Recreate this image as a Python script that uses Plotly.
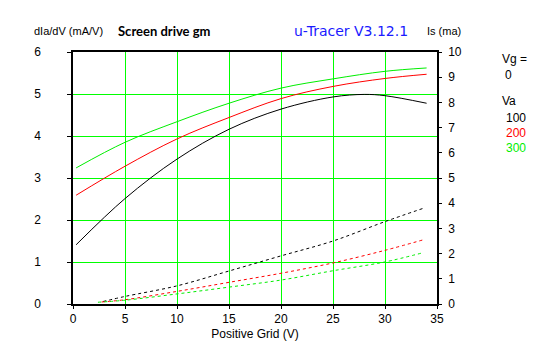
import plotly.graph_objects as go

# Data
vg_gm = [0.3, 5, 10, 15, 20, 25, 28, 30, 34]
gm_100 = [1.41, 2.51, 3.45, 4.16, 4.64, 4.93, 4.99, 4.96, 4.78]
vg_gm2 = [0.3, 5, 10, 15, 20, 25, 30, 34]
gm_200 = [2.59, 3.28, 3.93, 4.44, 4.89, 5.18, 5.37, 5.47]
gm_300 = [3.24, 3.85, 4.34, 4.78, 5.14, 5.36, 5.54, 5.62]

vg_is_100 = [2.9, 5, 10, 15, 20, 25, 30, 33.7]
is_100 = [0.10, 0.30, 0.72, 1.31, 1.91, 2.50, 3.27, 3.80]
vg_is_200 = [2.75, 5, 10, 15, 20, 25, 30, 33.7]
is_200 = [0.08, 0.17, 0.50, 0.86, 1.22, 1.63, 2.13, 2.55]
vg_is_300 = [2.4, 5, 10, 15, 20, 25, 30, 33.7]
is_300 = [0.07, 0.15, 0.40, 0.67, 0.95, 1.32, 1.67, 2.04]

va_labels = ["100", "200", "300"]
colors = ["#000000", "#ff0000", "#00ee00"]
GRID = "#00ff00"
FONT = "Liberation Sans"

L, T, R, B = 73, 52, 437, 304   # plot area edges in px

fig = go.Figure()
for xs, ys, c in [(vg_gm, gm_100, colors[0]), (vg_gm2, gm_200, colors[1]), (vg_gm2, gm_300, colors[2])]:
    fig.add_trace(go.Scatter(x=xs, y=ys, mode="lines", line=dict(color=c, width=1, shape="spline"),
                             showlegend=False, yaxis="y", hoverinfo="skip"))
for xs, ys, c in [(vg_is_100, is_100, colors[0]), (vg_is_200, is_200, colors[1]), (vg_is_300, is_300, colors[2])]:
    fig.add_trace(go.Scatter(x=xs, y=ys, mode="lines", line=dict(color=c, width=1, dash="3px,3px", shape="spline"),
                             showlegend=False, yaxis="y2", hoverinfo="skip"))

fig.update_layout(
    template="none",
    width=547, height=357,
    margin=dict(l=L, r=547 - R, t=T, b=357 - B),
    paper_bgcolor="white", plot_bgcolor="white",
    font=dict(family=FONT, size=12, color="black"),
    xaxis=dict(range=[0, 35], tickmode="linear", tick0=0, dtick=5, showgrid=True, gridcolor=GRID,
               gridwidth=1, showline=True, linecolor="black", linewidth=1.5, mirror=True, ticks="outside",
               ticklen=3, tickcolor="black", zeroline=False,
               title=dict(text="Positive Grid (V)", font=dict(size=12), standoff=4)),
    yaxis=dict(range=[0, 6], tickvals=[0, 1, 2, 3, 4, 5, 6], showgrid=True, gridcolor=GRID, gridwidth=1,
               showline=True, linecolor="black", linewidth=1.5, ticks="outside", ticklen=4,
               tickcolor="black", zeroline=False, ticklabelstandoff=24),
    yaxis2=dict(range=[0, 10], tickvals=list(range(11)), overlaying="y", side="right", showgrid=False,
                showline=True, linecolor="black", linewidth=1.5, ticks="outside", ticklen=3,
                tickcolor="black", zeroline=False, ticklabelstandoff=4),
)

ann = [
    dict(text="dIa/dV (mA/V)", x=32, y=31, xanchor="left", font=dict(size=11)),
    dict(text="<b>Screen drive gm</b>", x=116, y=31, xanchor="left", font=dict(family="Lato", size=13)),
    dict(text="u-Tracer V3.12.1", x=292, y=31, xanchor="left", font=dict(family="DejaVu Sans", size=14, color="#1a1aff")),
    dict(text="Is (ma)", x=425, y=31, xanchor="left", font=dict(size=11)),
    dict(text="Vg =", x=500, y=59, xanchor="left", font=dict(size=12)),
    dict(text="0", x=503, y=75, xanchor="left", font=dict(size=12)),
    dict(text="Va", x=500, y=101, xanchor="left", font=dict(size=12)),
]
for i, (lab, c) in enumerate(zip(va_labels, colors)):
    ann.append(dict(text=lab, x=504, y=118 + 15 * i, xanchor="left", font=dict(size=12, color=c)))
for a in ann:
    a.update(xref="paper", yref="paper", showarrow=False, yanchor="middle")
    a["x"] = (a["x"] - L) / (R - L)
    a["y"] = (B - a["y"]) / (B - T)
fig.update_layout(annotations=ann)

fig.write_html("out.html", config={"displayModeBar": False},
               post_script="document.body.style.margin='0';")
